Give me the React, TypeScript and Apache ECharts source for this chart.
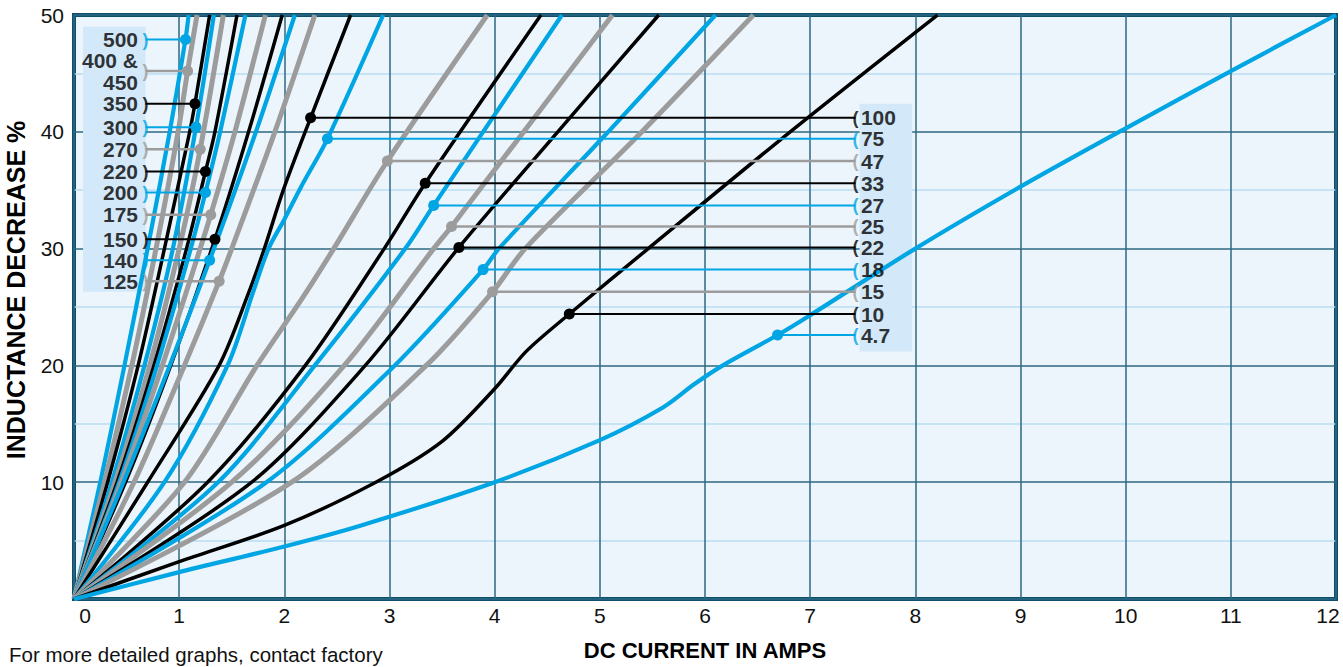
import React, { useEffect, useRef } from 'react';
import * as echarts from 'echarts';

const BLUE = '#00a5e3';
const GRAY = '#9c9c9c';
const BLACK = '#000000';
const BOX = '#d3e8f8';
const FONT = "'Liberation Sans', Arial, sans-serif";

// Curves: [DC current (A), inductance decrease (%)]
const C500 = [[0, 0], [0.25, 10], [0.48, 20], [0.7, 30], [0.91, 40], [1.06, 47.9], [1.09, 50]];
const C400 = [[0, 0], [0.29, 10], [0.55, 20], [0.78, 30], [0.99, 40], [1.08, 45.2], [1.17, 50]];
const C350 = [[0, 0], [0.32, 10], [0.61, 20], [0.86, 30], [1.1, 40], [1.15, 42.4], [1.29, 50]];
const C300 = [[0, 0], [0.36, 10], [0.67, 20], [0.94, 30], [1.16, 40.4], [1.33, 50]];
const C270 = [[0, 0], [0.39, 10], [0.72, 20], [1.0, 30], [1.2, 38.5], [1.42, 50]];
const C220 = [[0, 0], [0.41, 10], [0.76, 20], [1.07, 30], [1.25, 36.6], [1.34, 40], [1.55, 50]];
const C200 = [[0, 0], [0.43, 10], [0.79, 20], [1.11, 30], [1.25, 34.8], [1.39, 40], [1.63, 50]];
const C175 = [[0, 0], [0.45, 10], [0.84, 20], [1.2, 30], [1.3, 32.9], [1.53, 40], [1.82, 50]];
const C150 = [[0, 0], [0.49, 10], [0.92, 20], [1.34, 30.8], [1.66, 40], [1.98, 50]];
const C140 = [[0, 0], [0.47, 10], [0.91, 20], [1.29, 29], [1.73, 40], [2.1, 50]];
const C125 = [[0, 0], [0.57, 10], [1.05, 20], [1.38, 27.2], [1.5, 30], [1.91, 40], [2.29, 50]];
const C100 = [[0, 0], [0.7, 10], [1.38, 20], [1.66, 26.2], [1.81, 30], [1.99, 35], [2.25, 41.2], [2.63, 50]];
const C75 = [[0, 0], [0.86, 10], [1.46, 20], [1.7, 26.2], [1.85, 30], [2.0, 32.5], [2.16, 35.3], [2.41, 39.4], [2.94, 50]];
const C47 = [[0, 0], [1.05, 10], [1.74, 20], [2.16, 25.6], [2.47, 30], [2.98, 37.5], [3.93, 50]];
const C33 = [[0, 0], [1.27, 10], [2.2, 20], [2.95, 30], [3.34, 35.6], [4.44, 50]];
const C27 = [[0, 0], [1.37, 10], [2.29, 20], [3.15, 30], [3.42, 33.7], [4.64, 50]];
const C25 = [[0, 0], [1.5, 10], [2.57, 20], [3.42, 30], [3.59, 31.9], [5.12, 50]];
const C22 = [[0, 0], [1.69, 10], [2.77, 20], [3.66, 30.1], [4.6, 40], [5.56, 50]];
const C18 = [[0, 0], [1.83, 10], [3.05, 20], [3.89, 28.2], [4.04, 30], [5.08, 40], [6.1, 50]];
const C15 = [[0, 0], [2.07, 10], [3.35, 20], [3.98, 26.3], [4.29, 30], [5.4, 40], [6.46, 50]];
const C10 = [[0, 0], [1, 3.2], [2, 6.3], [2.87, 10], [3.5, 13.5], [4.0, 18.0], [4.3, 21.2], [4.71, 24.4], [5.46, 30], [6.81, 40], [8.21, 50]];
const C4_7 = [[0, 0], [1, 2.3], [2, 4.5], [2.73, 6.3], [4, 10], [5, 13.6], [5.6, 16.4], [5.9, 18.4], [6.17, 20], [6.69, 22.6], [7, 24.3], [8, 30], [9, 35.3], [10, 40.3], [11, 45.2], [12, 50]];

const CURVE_NAMES = ['500', '400 & 450', '350', '300', '270', '220', '200', '175', '150', '140', '125',
  '100', '75', '47', '33', '27', '25', '22', '18', '15', '10', '4.7'];
const CURVE_DATA = [C500, C400, C350, C300, C270, C220, C200, C175, C150, C140, C125,
  C100, C75, C47, C33, C27, C25, C22, C18, C15, C10, C4_7];
const COLOR_CYCLE = [BLUE, GRAY, BLACK];

// Left tag group (curves 0..10)
const LEFT_TAGS = ['500', '400 &\n450', '350', '300', '270', '220', '200', '175', '150', '140', '125'];
const LEFT_DOT_X = [1.06, 1.08, 1.15, 1.16, 1.2, 1.25, 1.25, 1.3, 1.34, 1.29, 1.38];
const LEFT_DOT_Y = [47.9, 45.2, 42.4, 40.4, 38.5, 36.6, 34.8, 32.9, 30.8, 29.0, 27.2];
// Right tag group (curves 11..21)
const RIGHT_TAGS = ['100', '75', '47', '33', '27', '25', '22', '18', '15', '10', '4.7'];
const RIGHT_DOT_X = [2.25, 2.41, 2.98, 3.34, 3.42, 3.59, 3.66, 3.89, 3.98, 4.71, 6.69];
const RIGHT_DOT_Y = [41.2, 39.4, 37.5, 35.6, 33.7, 31.9, 30.1, 28.2, 26.3, 24.4, 22.6];

const LEFT_TAG_X = 0.68;
const RIGHT_TAG_X = 7.43;

const X_MIN = 0, X_MAX = 12, Y_MIN = 0, Y_MAX = 50;

export default function App() {
  const ref = useRef<HTMLDivElement>(null);
  useEffect(() => {
    document.body.style.margin = '0';
    document.body.style.overflow = 'hidden';
    const chart = echarts.init(ref.current as HTMLDivElement, null, { renderer: 'svg' });
    const series: any[] = [];

    series.push({
      type: 'line', data: [], z: 1, silent: true,
      markArea: {
        silent: true,
        itemStyle: { color: BOX },
        data: [
          [{ coord: [0.086, 49.0] }, { coord: [0.68, 26.3] }],
          [{ coord: [7.47, 42.4] }, { coord: [7.97, 21.2] }],
        ],
      },
    });

    CURVE_DATA.forEach((d, i) => {
      const color = COLOR_CYCLE[i % 3];
      series.push({
        type: 'line', name: CURVE_NAMES[i], data: d, showSymbol: false,
        smooth: 0.3, silent: true, z: 3,
        lineStyle: { color, width: color === GRAY ? 5 : color === BLUE ? 4.2 : 3.5 },
      });
    });

    const tagLabels: any[] = [];
    const addTag = (name: string, dx: number, dy: number, tagX: number, color: string, right: boolean) => {
      series.push({
        type: 'line', silent: true, z: 4,
        data: [
          { value: [dx, dy], symbol: 'circle', symbolSize: 11 },
          { value: [tagX, dy], symbol: 'none' },
        ],
        lineStyle: { color, width: color === GRAY ? 2.5 : 2 },
        itemStyle: { color },
      });
      tagLabels.push({
        value: [tagX, dy],
        label: {
          show: true, position: 'inside', formatter: right ? '(' : ')',
          color, fontSize: 18, fontWeight: 'bold', fontFamily: FONT,
        },
      });
      tagLabels.push({
        value: [tagX, dy],
        label: {
          show: true, position: right ? 'right' : 'left', distance: right ? 5 : 7,
          formatter: name, color: '#000', fontSize: 21, fontWeight: 'bold',
          fontFamily: FONT, lineHeight: 22,
        },
      });
    };
    LEFT_TAGS.forEach((t, i) => addTag(t, LEFT_DOT_X[i], LEFT_DOT_Y[i], LEFT_TAG_X, COLOR_CYCLE[i % 3], false));
    RIGHT_TAGS.forEach((t, j) => addTag(t, RIGHT_DOT_X[j], RIGHT_DOT_Y[j], RIGHT_TAG_X, COLOR_CYCLE[(11 + j) % 3], true));

    series.push({
      type: 'scatter', silent: true, z: 6, symbolSize: 1,
      itemStyle: { color: 'rgba(0,0,0,0)' },
      data: tagLabels,
    });

    chart.setOption({
      animation: false,
      title: {
        text: 'For more detailed graphs, contact factory',
        left: 4, top: 639,
        textStyle: { fontSize: 20.5, fontWeight: 'normal', color: '#111', fontFamily: FONT },
      },
      grid: {
        left: 74, right: 7, top: 15, bottom: 68,
        outerBoundsMode: 'none', containLabel: false,
        show: true, backgroundColor: '#edf5fc', borderColor: '#0e4f6e', borderWidth: 4,
      },
      xAxis: {
        type: 'value', min: X_MIN, max: X_MAX, interval: 1,
        name: 'DC CURRENT IN AMPS', nameLocation: 'middle', nameGap: 40,
        nameTextStyle: { fontSize: 22, fontWeight: 'bold', color: '#000', fontFamily: FONT },
        axisLine: { show: false }, axisTick: { show: false },
        axisLabel: {
          margin: 6, fontSize: 21, color: '#111', fontFamily: FONT,
          formatter: (v: number) => (v === 0 ? '{z|0}' : v === 12 ? '{e|12}' : String(v)),
          rich: {
            z: { fontSize: 21, color: '#111', fontFamily: FONT, padding: [0, 0, 0, 22] },
            e: { fontSize: 21, color: '#111', fontFamily: FONT, padding: [0, 16, 0, 0] },
          },
        },
        splitLine: { show: true, lineStyle: { color: '#2c6883', width: 1.5 } },
      },
      yAxis: {
        type: 'value', min: Y_MIN, max: Y_MAX, interval: 10,
        name: 'INDUCTANCE DECREASE %', nameLocation: 'middle', nameGap: 46, nameRotate: 90,
        nameTextStyle: {
          fontSize: 25, fontWeight: 'bold', color: '#000', fontFamily: FONT,
          padding: [0, 0, 0, 34],
        },
        axisLine: { show: false }, axisTick: { show: false },
        axisLabel: {
          margin: 10, fontSize: 21, color: '#111', fontFamily: FONT,
          formatter: (v: number) => (v === 0 ? '' : String(v)),
        },
        splitLine: { show: true, lineStyle: { color: '#2c6883', width: 1.5 } },
        minorTick: { show: false, splitNumber: 2 },
        minorSplitLine: { show: true, lineStyle: { color: '#b9dcf3', width: 1.5 } },
      },
      series,
    });
    return () => chart.dispose();
  }, []);
  return <div ref={ref} style={{ width: 1343, height: 667 }} />;
}
